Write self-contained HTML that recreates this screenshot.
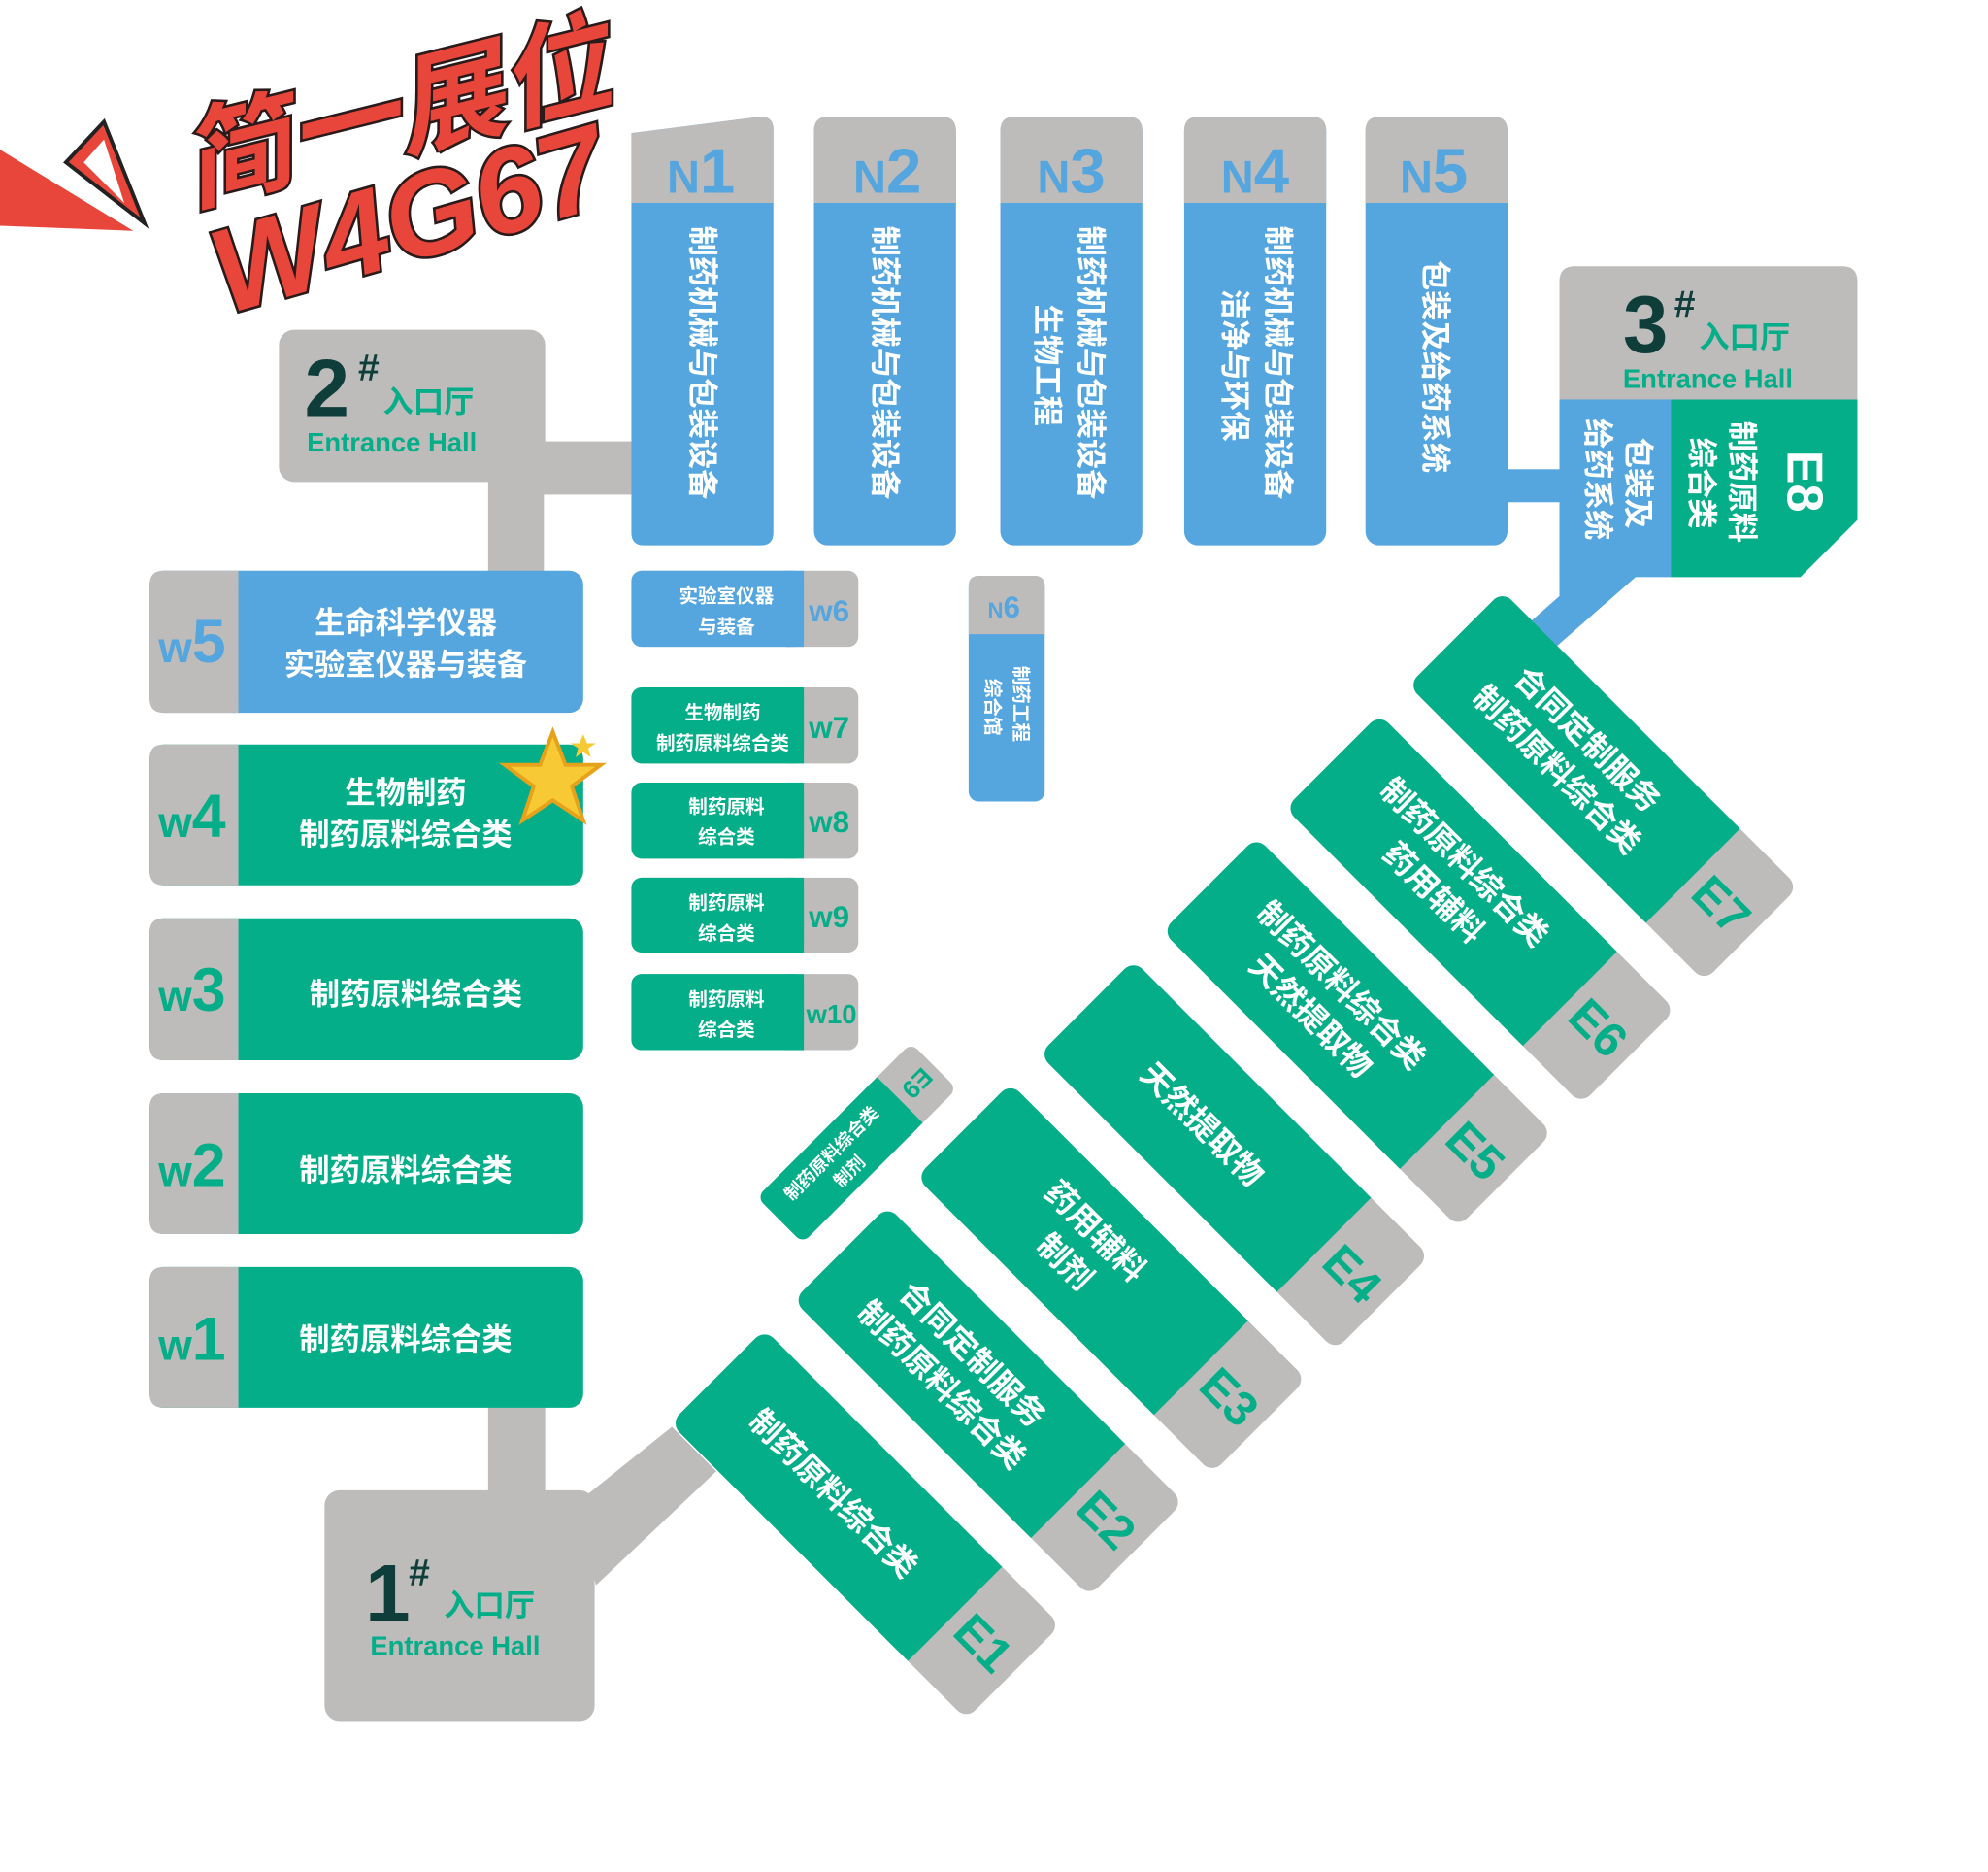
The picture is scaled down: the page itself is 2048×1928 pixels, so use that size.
<!DOCTYPE html>
<html><head><meta charset="utf-8">
<style>
html,body{margin:0;padding:0;background:#fff;}
svg{display:block;}
text{font-family:"Liberation Sans","Noto Sans CJK SC",sans-serif;font-weight:bold;}
.wt{fill:#fff;}
</style></head>
<body>
<svg width="2048" height="1928" viewBox="0 0 1568 1476" preserveAspectRatio="none" xmlns="http://www.w3.org/2000/svg">
<defs>
<g id="eblk">
  <rect x="0" y="0" width="330" height="105" rx="10" fill="#bdbcbb"/>
  <rect x="0" y="0" width="265" height="105" rx="10" fill="#04ae88"/>
  <rect x="240" y="0" width="25" height="105" fill="#04ae88"/>
</g>
</defs>
<!-- red decoration -->
<polygon points="0,118 105,182 0,178" fill="#e8463a"/>
<polygon points="52,128 82,96 114,176" fill="#e8463a" stroke="#222" stroke-width="3"/>
<polygon points="66,128 82,110 98,160" fill="#fff"/>
<g font-style="italic" fill="#e8463a" stroke="#2a1a1a" stroke-width="4" paint-order="stroke">
<text x="152" y="160" font-size="86" transform="rotate(-14 152 160)">简一展位</text>
<text x="178" y="248" font-size="94" transform="rotate(-16 178 248)">W4G67</text>
</g>

<!-- connectors gray -->
<rect x="420" y="348" width="90" height="42" fill="#bdbcbb"/>
<rect x="385" y="370" width="44" height="95" fill="#bdbcbb"/>
<rect x="385" y="1100" width="45" height="90" fill="#bdbcbb"/>
<polygon points="455,1185 530,1125 565,1160 470,1250" fill="#bdbcbb"/>

<!-- 2# hall -->
<rect x="220" y="260" width="210" height="120" rx="12" fill="#bdbcbb"/>
<text x="240" y="328" font-size="64" fill="#0e3d3a">2</text>
<text x="282" y="300" font-size="30" fill="#0e3d3a" font-style="italic">#</text>
<text x="302" y="325" font-size="24" fill="#04ae88">入口厅</text>
<text x="242" y="356" font-size="21" fill="#04ae88">Entrance Hall</text>

<!-- 1# hall -->
<rect x="256" y="1175" width="213" height="182" rx="12" fill="#bdbcbb"/>
<text x="288" y="1278" font-size="64" fill="#0e3d3a">1</text>
<text x="322" y="1250" font-size="30" fill="#0e3d3a" font-style="italic">#</text>
<text x="350" y="1274" font-size="24" fill="#04ae88">入口厅</text>
<text x="292" y="1305" font-size="21" fill="#04ae88">Entrance Hall</text>

<!-- N blocks -->
<g>
<path d="M498,105 L600,92 Q610,92 610,102 L610,420 Q610,430 600,430 L508,430 Q498,430 498,420 Z" fill="#55a5de"/>
<path d="M498,105 L600,92 Q610,92 610,102 L610,160 L498,160 Z" fill="#bdbcbb"/>
<rect x="642" y="92" width="112" height="338" rx="11" fill="#55a5de"/>
<path d="M642,160 L642,103 Q642,92 653,92 L743,92 Q754,92 754,103 L754,160 Z" fill="#bdbcbb"/>
<rect x="789" y="92" width="112" height="338" rx="11" fill="#55a5de"/>
<path d="M789,160 L789,103 Q789,92 800,92 L890,92 Q901,92 901,103 L901,160 Z" fill="#bdbcbb"/>
<rect x="934" y="92" width="112" height="338" rx="11" fill="#55a5de"/>
<path d="M934,160 L934,103 Q934,92 945,92 L1035,92 Q1046,92 1046,103 L1046,160 Z" fill="#bdbcbb"/>
<rect x="1077" y="92" width="112" height="338" rx="11" fill="#55a5de"/>
<path d="M1077,160 L1077,103 Q1077,92 1088,92 L1178,92 Q1189,92 1189,103 L1189,160 Z" fill="#bdbcbb"/>
</g>
<g fill="#55a5de">
<text x="526" y="152" font-size="36">N<tspan font-size="50">1</tspan></text>
<text x="673" y="152" font-size="36">N<tspan font-size="50">2</tspan></text>
<text x="818" y="152" font-size="36">N<tspan font-size="50">3</tspan></text>
<text x="963" y="152" font-size="36">N<tspan font-size="50">4</tspan></text>
<text x="1104" y="152" font-size="36">N<tspan font-size="50">5</tspan></text>
</g>
<g class="wt" font-size="24">
<text transform="translate(546,178) rotate(90)">制药机械与包装设备</text>
<text transform="translate(690,178) rotate(90)">制药机械与包装设备</text>
<text transform="translate(852,178) rotate(90)">制药机械与包装设备</text>
<text transform="translate(818,240) rotate(90)">生物工程</text>
<text transform="translate(1000,178) rotate(90)">制药机械与包装设备</text>
<text transform="translate(966,228) rotate(90)">洁净与环保</text>
<text transform="translate(1124,205) rotate(90)">包装及给药系统</text>
</g>

<!-- 3# hall -->
<rect x="1189" y="370" width="45" height="26" fill="#55a5de"/>
<polygon points="1230,440 1290,440 1290,455 1225,512 1205,492 1230,470" fill="#55a5de"/>
<path d="M1230,222 Q1230,210 1242,210 L1453,210 Q1465,210 1465,222 L1465,315 L1230,315 Z" fill="#bdbcbb"/>
<rect x="1230" y="315" width="90" height="140" fill="#55a5de"/>
<path d="M1318,315 L1465,315 L1465,410 L1420,455 L1318,455 Z" fill="#04ae88"/>
<text x="1280" y="278" font-size="64" fill="#0e3d3a">3</text>
<text x="1320" y="250" font-size="30" fill="#0e3d3a" font-style="italic">#</text>
<text x="1340" y="274" font-size="24" fill="#04ae88">入口厅</text>
<text x="1280" y="306" font-size="21" fill="#04ae88">Entrance Hall</text>
<g class="wt" font-size="24">
<text transform="translate(1284,345) rotate(90)">包装及</text>
<text transform="translate(1252,330) rotate(90)">给药系统</text>
<text transform="translate(1366,332) rotate(90)">制药原料</text>
<text transform="translate(1334,345) rotate(90)">综合类</text>
<text transform="translate(1410,355) rotate(90)" font-size="40">E8</text>
</g>

<!-- W blocks -->
<g>
<rect x="118" y="450" width="342" height="112" rx="11" fill="#55a5de"/>
<path d="M188,450 L129,450 Q118,450 118,461 L118,551 Q118,562 129,562 L188,562 Z" fill="#bdbcbb"/>
<rect x="118" y="587" width="342" height="111" rx="11" fill="#04ae88"/>
<path d="M188,587 L129,587 Q118,587 118,598 L118,687 Q118,698 129,698 L188,698 Z" fill="#bdbcbb"/>
<rect x="118" y="724" width="342" height="112" rx="11" fill="#04ae88"/>
<path d="M188,724 L129,724 Q118,724 118,735 L118,825 Q118,836 129,836 L188,836 Z" fill="#bdbcbb"/>
<rect x="118" y="862" width="342" height="111" rx="11" fill="#04ae88"/>
<path d="M188,862 L129,862 Q118,862 118,873 L118,962 Q118,973 129,973 L188,973 Z" fill="#bdbcbb"/>
<rect x="118" y="999" width="342" height="111" rx="11" fill="#04ae88"/>
<path d="M188,999 L129,999 Q118,999 118,1010 L118,1099 Q118,1110 129,1110 L188,1110 Z" fill="#bdbcbb"/>
</g>
<text x="125" y="522" font-size="34" fill="#55a5de">w<tspan font-size="48">5</tspan></text>
<g fill="#04ae88">
<text x="125" y="660" font-size="34">w<tspan font-size="48">4</tspan></text>
<text x="125" y="797" font-size="34">w<tspan font-size="48">3</tspan></text>
<text x="125" y="935" font-size="34">w<tspan font-size="48">2</tspan></text>
<text x="125" y="1072" font-size="34">w<tspan font-size="48">1</tspan></text>
</g>
<g class="wt" font-size="24" text-anchor="middle">
<text x="320" y="499">生命科学仪器</text>
<text x="320" y="532">实验室仪器与装备</text>
<text x="320" y="633">生物制药</text>
<text x="320" y="666">制药原料综合类</text>
<text x="328" y="792">制药原料综合类</text>
<text x="320" y="931">制药原料综合类</text>
<text x="320" y="1064">制药原料综合类</text>
</g>
<!-- star -->
<g transform="translate(436,615)">
<polygon points="0,-38 10,-12 38,-12 15,5 24,32 0,16 -24,32 -15,5 -38,-12 -10,-12" fill="#f7c935" stroke="#e7a21b" stroke-width="3"/>
<polygon points="24,-36 27,-29 34,-29 28,-25 30,-18 24,-22 18,-18 20,-25 14,-29 21,-29" fill="#f7c935"/>
</g>

<!-- w6-w10 -->
<g>
<rect x="498" y="450" width="179" height="60" rx="8" fill="#bdbcbb"/><rect x="498" y="450" width="136" height="60" rx="8" fill="#55a5de"/><rect x="620" y="450" width="14" height="60" fill="#55a5de"/>
<rect x="498" y="542" width="179" height="60" rx="8" fill="#bdbcbb"/><rect x="498" y="542" width="136" height="60" rx="8" fill="#04ae88"/><rect x="620" y="542" width="14" height="60" fill="#04ae88"/>
<rect x="498" y="617" width="179" height="60" rx="8" fill="#bdbcbb"/><rect x="498" y="617" width="136" height="60" rx="8" fill="#04ae88"/><rect x="620" y="617" width="14" height="60" fill="#04ae88"/>
<rect x="498" y="692" width="179" height="59" rx="8" fill="#bdbcbb"/><rect x="498" y="692" width="136" height="59" rx="8" fill="#04ae88"/><rect x="620" y="692" width="14" height="59" fill="#04ae88"/>
<rect x="498" y="768" width="179" height="60" rx="8" fill="#bdbcbb"/><rect x="498" y="768" width="136" height="60" rx="8" fill="#04ae88"/><rect x="620" y="768" width="14" height="60" fill="#04ae88"/>
</g>
<text x="638" y="490" font-size="24" fill="#55a5de">w6</text>
<g fill="#04ae88" font-size="24">
<text x="638" y="582">w7</text><text x="638" y="656">w8</text><text x="638" y="731">w9</text>
<text x="636" y="807" font-size="21">w10</text>
</g>
<g class="wt" font-size="15" text-anchor="middle">
<text x="573" y="475">实验室仪器</text><text x="573" y="499">与装备</text>
<text x="570" y="567">生物制药</text><text x="570" y="591">制药原料综合类</text>
<text x="573" y="641">制药原料</text><text x="573" y="665">综合类</text>
<text x="573" y="717">制药原料</text><text x="573" y="741">综合类</text>
<text x="573" y="793">制药原料</text><text x="573" y="817">综合类</text>
</g>

<!-- N6 -->
<rect x="764" y="454" width="60" height="178" rx="8" fill="#55a5de"/>
<path d="M764,500 L764,462 Q764,454 772,454 L816,454 Q824,454 824,462 L824,500 Z" fill="#bdbcbb"/>
<text x="779" y="487" font-size="17" fill="#55a5de">N<tspan font-size="24">6</tspan></text>
<g class="wt" font-size="15">
<text transform="translate(800,525) rotate(90)">制药工程</text>
<text transform="translate(778,535) rotate(90)">综合馆</text>
</g>

<!-- E blocks -->
<g transform="translate(1185,466) rotate(45)"><use href="#eblk"/>
<text class="wt" x="130" y="44" font-size="25" text-anchor="middle">合同定制服务</text>
<text class="wt" x="130" y="78" font-size="25" text-anchor="middle">制药原料综合类</text>
<text x="297" y="66" font-size="38" fill="#04ae88" text-anchor="middle">E7</text></g>
<g transform="translate(1088,563) rotate(45)"><use href="#eblk"/>
<text class="wt" x="130" y="44" font-size="25" text-anchor="middle">制药原料综合类</text>
<text class="wt" x="130" y="78" font-size="25" text-anchor="middle">药用辅料</text>
<text x="297" y="66" font-size="38" fill="#04ae88" text-anchor="middle">E6</text></g>
<g transform="translate(991,660) rotate(45)"><use href="#eblk"/>
<text class="wt" x="130" y="44" font-size="25" text-anchor="middle">制药原料综合类</text>
<text class="wt" x="130" y="78" font-size="25" text-anchor="middle">天然提取物</text>
<text x="297" y="66" font-size="38" fill="#04ae88" text-anchor="middle">E5</text></g>
<g transform="translate(894,757) rotate(45)"><use href="#eblk"/>
<text class="wt" x="130" y="62" font-size="25" text-anchor="middle">天然提取物</text>
<text x="297" y="66" font-size="38" fill="#04ae88" text-anchor="middle">E4</text></g>
<g transform="translate(797,854) rotate(45)"><use href="#eblk"/>
<text class="wt" x="130" y="44" font-size="25" text-anchor="middle">药用辅料</text>
<text class="wt" x="130" y="78" font-size="25" text-anchor="middle">制剂</text>
<text x="297" y="66" font-size="38" fill="#04ae88" text-anchor="middle">E3</text></g>
<g transform="translate(700,951) rotate(45)"><use href="#eblk"/>
<text class="wt" x="130" y="44" font-size="25" text-anchor="middle">合同定制服务</text>
<text class="wt" x="130" y="78" font-size="25" text-anchor="middle">制药原料综合类</text>
<text x="297" y="66" font-size="38" fill="#04ae88" text-anchor="middle">E2</text></g>
<g transform="translate(603,1048) rotate(45)"><use href="#eblk"/>
<text class="wt" x="130" y="62" font-size="25" text-anchor="middle">制药原料综合类</text>
<text x="297" y="66" font-size="38" fill="#04ae88" text-anchor="middle">E1</text></g>

<!-- E9 -->
<g transform="translate(597,944) rotate(-45)">
<rect x="0" y="0" width="172" height="51" rx="7" fill="#bdbcbb"/>
<rect x="0" y="0" width="134" height="51" rx="7" fill="#04ae88"/>
<rect x="120" y="0" width="14" height="51" fill="#04ae88"/>
<text class="wt" x="66" y="22" font-size="14" text-anchor="middle">制药原料综合类</text>
<text class="wt" x="66" y="42" font-size="14" text-anchor="middle">制剂</text>
<text x="153" y="33" font-size="20" fill="#04ae88" text-anchor="middle" transform="rotate(180 153 26)">E9</text>
</g>
</svg>
</body></html>
